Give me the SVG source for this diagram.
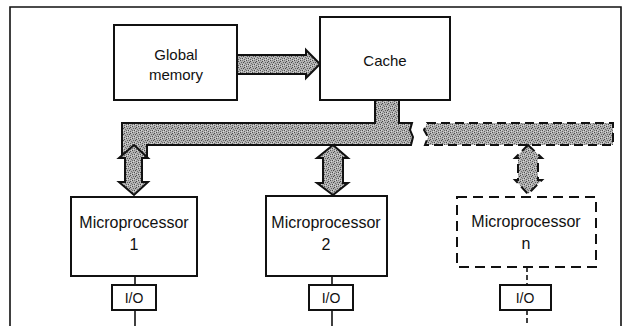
<svg xmlns="http://www.w3.org/2000/svg" width="629" height="326" viewBox="0 0 629 326">
<defs>
<pattern id="stip" width="6" height="6" patternUnits="userSpaceOnUse">
<rect width="6" height="6" fill="#b2b2b2"/>
<rect x="0" y="0" width="1" height="1" fill="#4a4a4a"/>
<rect x="2" y="0" width="1" height="1" fill="#808080"/>
<rect x="4" y="1" width="1" height="1" fill="#4a4a4a"/>
<rect x="1" y="2" width="1" height="1" fill="#606060"/>
<rect x="3" y="2" width="1" height="1" fill="#4a4a4a"/>
<rect x="5" y="3" width="1" height="1" fill="#707070"/>
<rect x="0" y="4" width="1" height="1" fill="#707070"/>
<rect x="2" y="4" width="1" height="1" fill="#4a4a4a"/>
<rect x="4" y="5" width="1" height="1" fill="#606060"/>
<rect x="1" y="5" width="1" height="1" fill="#d8d8d8"/>
<rect x="5" y="0" width="1" height="1" fill="#d8d8d8"/>
<rect x="3" y="4" width="1" height="1" fill="#d8d8d8"/>
</pattern>
</defs>
<style>
.box{fill:#fff;stroke:#111;stroke-width:2}
.dbox{fill:#fff;stroke:#111;stroke-width:2;stroke-dasharray:10,6}
.bus{fill:url(#stip);stroke:#111;stroke-width:2;stroke-linejoin:miter}
.dbus{fill:url(#stip);stroke:#111;stroke-width:2;stroke-dasharray:9,5}
.ln{stroke:#111;stroke-width:1.6;fill:none}
.dln{stroke:#111;stroke-width:1.6;fill:none;stroke-dasharray:5,3}
text{font-family:"Liberation Sans",Arial,sans-serif;font-size:15px;fill:#111;text-anchor:middle}
.mp{font-size:16px}
.io{font-size:14px}
</style>
<path class="ln" d="M10,326 V7 H621 V326"/>
<g id="connectors">
<path class="bus" d="M237,55 H306 V50 L320,64 L306,78 V74 H237 Z"/>
<path class="bus" d="M122,123 H375 V100 H399 V123 H412 L410,130 L413,137 L411,145 H147 V158 H122 Z"/>
<path class="bus" d="M134,145 L148,158 H142 V182 H148 L134,195 L119,182 H125 V158 H119 Z"/>
<path class="bus" d="M333,145 L348,158 H343 V183 H348 L333,195 L317,183 H323 V158 H317 Z"/>
<path class="dbus" d="M427,123 H613 V145 H425 L428,137 L424,130 Z"/>
<path class="dbus" d="M528,145 L542,158 H538 V180 H542 L528,194 L515,180 H518 V158 H515 Z"/>
<path class="ln" d="M135,276 V285 M135,310 V326"/>
<path class="ln" d="M332,276 V285 M332,310 V326"/>
<path class="dln" d="M527,267 V285 M527,310 V326"/>
</g>
<g id="global-memory">
<rect class="box" x="114" y="25" width="123" height="75"/>
<text x="176" y="60">Global</text>
<text x="176" y="80">memory</text>
</g>
<g id="cache">
<rect class="box" x="320" y="17" width="130" height="83"/>
<text x="385" y="66">Cache</text>
</g>
<g id="mp1">
<rect class="box" x="71" y="197" width="126" height="79"/>
<text class="mp" x="134" y="228">Microprocessor</text>
<text class="mp" x="134" y="250">1</text>
</g>
<g id="mp2">
<rect class="box" x="266" y="196" width="121" height="80"/>
<text class="mp" x="326" y="228">Microprocessor</text>
<text class="mp" x="326" y="250">2</text>
</g>
<g id="mpn">
<rect class="dbox" x="457" y="197" width="139" height="70"/>
<text class="mp" x="526" y="227">Microprocessor</text>
<text class="mp" x="526" y="249">n</text>
</g>
<g id="io1">
<rect class="box" x="112" y="285" width="44" height="25"/>
<text class="io" x="134" y="303">I/O</text>
</g>
<g id="io2">
<rect class="box" x="309" y="285" width="44" height="25"/>
<text class="io" x="331" y="303">I/O</text>
</g>
<g id="ion">
<rect class="box" x="500" y="285" width="51" height="25"/>
<text class="io" x="525" y="303">I/O</text>
</g>
</svg>
